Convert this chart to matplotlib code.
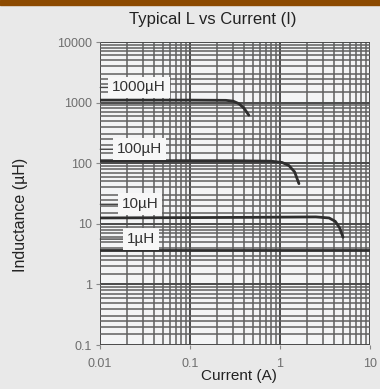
import matplotlib.pyplot as plt
from matplotlib.ticker import LogLocator, FixedLocator, NullFormatter
import numpy as np

# inductance roll-off curves, read in µH against current in A
i_1000 = [0.01, 0.1, 0.25, 0.3, 0.35, 0.4, 0.45]
l_1000 = [1100, 1100, 1090, 1060, 960, 800, 620]
i_100 = [0.01, 0.3, 0.8, 1.05, 1.25, 1.45, 1.62]
l_100 = [110, 110, 108, 103, 92, 72, 46]
i_10 = [0.01, 0.5, 2.5, 3.5, 4.1, 4.6, 5.0]
l_10 = [12.5, 12.8, 13, 12.5, 11, 8.5, 6.0]
i_1 = [0.01, 10]
l_1 = [3.7, 3.7]

curve_labels = ["1000µH", "100µH", "10µH", "1µH"]
label_pos = [(0.0136, 1780), (0.0154, 170), (0.0175, 21), (0.0199, 5.6)]

x_ticks = [0.01, 0.1, 1, 10]
x_ticklabels = ["0.01", "0.1", "1", "10"]
y_ticks = [0.1, 1, 10, 100, 1000, 10000]
y_ticklabels = ["0.1", "1", "10", "100", "1000", "10000"]

plt.rcParams["font.family"] = ["Liberation Sans", "DejaVu Sans"]

fig = plt.figure(figsize=(3.8, 3.89), dpi=100, facecolor="#e9e9e9")
ax = fig.add_axes([0.263, 0.113, 0.711, 0.779])
ax.set_facecolor("#f3f4f5")

# brown strip along the top edge
fig.patches.append(plt.Rectangle((0, 0.987), 1, 0.013, transform=fig.transFigure,
                                 color="#8c4a00", zorder=0))

ax.set_xscale("log")
ax.set_yscale("log")
ax.set_xlim(0.01, 10)
ax.set_ylim(0.1, 10000)

ax.xaxis.set_minor_locator(LogLocator(base=10, subs=np.arange(2, 10)))
ax.yaxis.set_minor_locator(LogLocator(base=10, subs=[1.5, 2, 2.5, 3, 4, 5, 6, 7, 8, 9]))
ax.xaxis.set_minor_formatter(NullFormatter())
ax.yaxis.set_minor_formatter(NullFormatter())
ax.xaxis.set_major_locator(FixedLocator(x_ticks))
ax.yaxis.set_major_locator(FixedLocator(y_ticks))
ax.set_xticklabels(x_ticklabels)
ax.set_yticklabels(y_ticklabels)

ax.grid(True, which="major", color="#4a4a4a", lw=1.4)
ax.grid(True, which="minor", color="#606060", lw=1.1)
ax.set_axisbelow(True)
for s in ax.spines.values():
    s.set_visible(False)
ax.tick_params(which="minor", length=0)
ax.tick_params(which="major", length=3, width=0.8, color="#888888",
               labelcolor="#6e6e6e", labelsize=9, pad=3)
ax.tick_params(axis="x", which="major", pad=6)

for xs, ys in [(i_1000, l_1000), (i_100, l_100), (i_10, l_10), (i_1, l_1)]:
    ax.plot(xs, ys, color="#2e2e2e", lw=2.0, solid_capstyle="round", zorder=3)

# curve names in white boxes, each with a short leader from the left edge
for txt, (x, y) in zip(curve_labels, label_pos):
    ax.annotate(txt, xy=(0.0101, y), xytext=(x, y), fontsize=11, color="#333333",
                va="center", ha="left", zorder=4,
                bbox=dict(boxstyle="square,pad=0.25", fc="#f7f7f7", ec="none"),
                arrowprops=dict(arrowstyle="-", color="#444444", lw=1.0,
                                shrinkA=0, shrinkB=0))

fig.text(0.56, 0.951, "Typical L vs Current (I)", fontsize=12, color="#222222",
         ha="center", va="center")
fig.text(0.63, 0.033, "Current (A)", fontsize=11, color="#222222",
         ha="center", va="center")
fig.text(0.053, 0.447, "Inductance (µH)", fontsize=11.5, color="#222222",
         ha="center", va="center", rotation=90)

fig.savefig("out.png", dpi=100, facecolor=fig.get_facecolor())
